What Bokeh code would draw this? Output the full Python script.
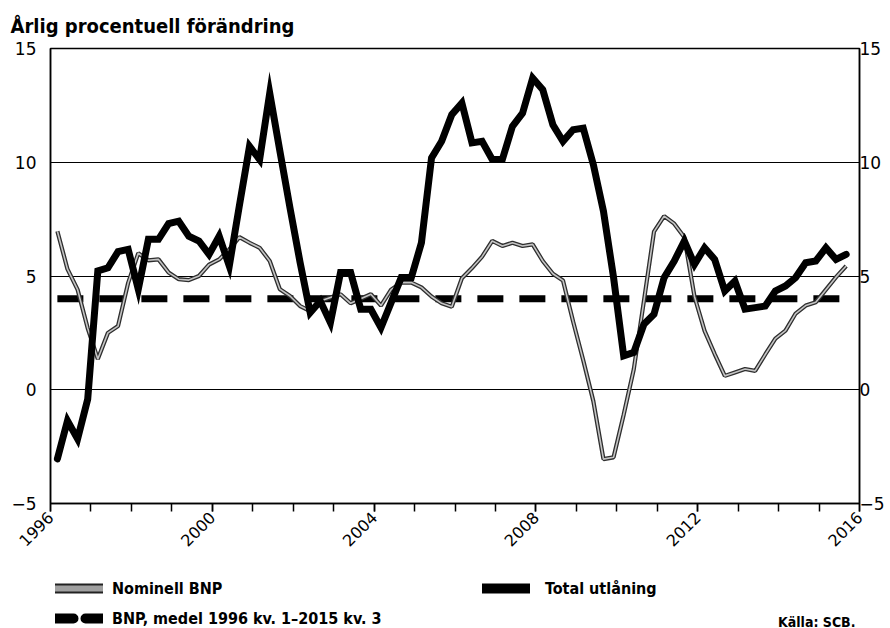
import math
from bokeh.plotting import figure
from bokeh.layouts import column
from bokeh.models import (Range1d, FixedTicker, LinearAxis, Label, Legend, LegendItem,
                          ColumnDataSource)
from bokeh.embed import file_html
from bokeh.resources import INLINE

# ---- data (quarterly, 1996 kv. 1 – 2015 kv. 3) ----
quarters = [(y, q) for y in range(1996, 2016) for q in range(1, 5)][:79]

total_utlaning = [
    -3.04, -1.36, -2.16, -0.41, 5.22, 5.36, 6.07, 6.17, 4.42, 6.61,
    6.61, 7.30, 7.41, 6.75, 6.54, 5.95, 6.75, 5.44, 8.10, 10.70,
    10.12, 13.04, 10.50, 8.00, 5.60, 3.39, 3.90, 2.95, 5.15, 5.15,
    3.54, 3.54, 2.73, 3.83, 4.93, 4.93, 6.46, 10.19, 10.92, 12.09,
    12.60, 10.85, 10.92, 10.12, 10.12, 11.58, 12.16, 13.70, 13.19, 11.65,
    10.92, 11.43, 11.50, 9.90, 7.85, 4.93, 1.49, 1.64, 2.88, 3.32,
    4.93, 5.66, 6.54, 5.51, 6.24, 5.73, 4.34, 4.78, 3.54, 3.61,
    3.68, 4.34, 4.56, 4.93, 5.58, 5.66, 6.24, 5.73, 5.95,
]

nominell_bnp = [
    6.97, 5.30, 4.40, 2.70, 1.35, 2.50, 2.80, 4.70, 6.00, 5.69,
    5.73, 5.15, 4.86, 4.82, 5.00, 5.50, 5.73, 6.17, 6.71, 6.46,
    6.24, 5.66, 4.42, 4.12, 3.68, 3.46, 3.90, 4.05, 4.20, 3.80,
    4.00, 4.20, 3.70, 4.40, 4.71, 4.71, 4.50, 4.10, 3.80, 3.65,
    4.90, 5.35, 5.85, 6.54, 6.32, 6.46, 6.32, 6.39, 5.66, 5.10,
    4.80, 3.00, 1.30, -0.50, -3.05, -2.97, -1.10, 0.90, 3.90, 6.95,
    7.63, 7.30, 6.70, 4.10, 2.59, 1.57, 0.61, 0.76, 0.91, 0.83,
    1.55, 2.25, 2.60, 3.35, 3.70, 3.85, 4.40, 4.95, 5.44,
]

bnp_medel = [4.0] * len(quarters)

y_ticks = [-5, 0, 5, 10, 15]
x_label_years = [1996, 2000, 2004, 2008, 2012, 2016]

title_text = "Årlig procentuell förändring"
legend_labels = ["Nominell BNP", "Total utlåning", "BNP, medel 1996 kv. 1\u20132015 kv. 3"]
source_text = "Källa: SCB."

x = [y + (q - 1) / 4 + 0.17 for (y, q) in quarters]
src = ColumnDataSource(dict(x=x, tot=total_utlaning, bnp=nominell_bnp, med=bnp_medel))

FONT = "DejaVu Sans"
NARROW = "'DejaVu Sans Condensed', 'Liberation Sans', sans-serif"
W = 890

# ---- main chart ----
p = figure(width=W, height=558, output_backend="svg", toolbar_location=None,
           x_range=Range1d(1996, 2016), y_range=Range1d(-5, 15), title=title_text,
           min_border_left=50, min_border_right=31, min_border_top=48, min_border_bottom=55)
p.title.align = "left"
p.title.offset = -40
p.title.standoff = 22
p.title.text_font = NARROW
p.title.text_font_style = "bold"
p.title.text_font_size = "20px"
p.title.text_color = "black"
p.outline_line_color = "black"
p.outline_line_width = 1.5
p.xgrid.visible = False
p.ygrid.ticker = FixedTicker(ticks=[0, 5, 10])
p.ygrid.grid_line_color = "black"
p.ygrid.grid_line_width = 1.2

ya = p.yaxis[0]
ra = LinearAxis()
p.add_layout(ra, "right")
for ax, standoff in ((ya, 14), (ra, 0)):
    ax.ticker = FixedTicker(ticks=y_ticks)
    ax.major_label_overrides = {-5: "\u22125"}
    ax.major_tick_out = 0
    ax.major_tick_in = 0
    ax.minor_tick_out = 0
    ax.minor_tick_in = 0
    ax.major_label_standoff = standoff
    ax.major_label_text_font = FONT
    ax.major_label_text_font_size = "17px"
    ax.major_label_text_color = "black"
    ax.axis_line_color = "black"
    ax.axis_line_width = 1.5

xa = p.xaxis[0]
xa.ticker = FixedTicker(ticks=x_label_years, minor_ticks=list(range(1996, 2017)))
xa.major_tick_out = 8
xa.major_tick_in = 0
xa.minor_tick_out = 8
xa.minor_tick_in = 0
xa.major_tick_line_width = 1.5
xa.minor_tick_line_width = 1.5
xa.major_tick_line_color = "black"
xa.minor_tick_line_color = "black"
xa.major_label_orientation = math.pi / 4
xa.major_label_standoff = 3
xa.major_label_text_font = FONT
xa.major_label_text_font_size = "16px"
xa.major_label_text_color = "black"
xa.axis_line_color = "black"
xa.axis_line_width = 1.5

p.line("x", "med", source=src, line_color="black", line_width=7,
       line_dash="26 16", line_cap="butt")
p.line("x", "bnp", source=src, line_color="#2e2e2e", line_width=4.2)
p.line("x", "bnp", source=src, line_color="#c4c4c4", line_width=1.6)
p.line("x", "tot", source=src, line_color="black", line_width=7,
       line_join="miter", line_cap="round")

# ---- legend strip (its frame is aligned with the chart frame) ----
lfig = figure(width=W, height=70, output_backend="svg", toolbar_location=None,
              x_range=Range1d(0, 1), y_range=Range1d(0, 1),
              x_axis_location=None, y_axis_location=None, min_border=0)
lfig.outline_line_color = None
lfig.grid.visible = False
nan = float("nan")
swatch = ColumnDataSource(dict(x=[nan], y=[nan]))
sw_bnp_o = lfig.line("x", "y", source=swatch, line_color="#222222", line_width=10, line_cap="round")
sw_bnp_i = lfig.line("x", "y", source=swatch, line_color="#a0a0a0", line_width=6, line_cap="round")
sw_tot = lfig.line("x", "y", source=swatch, line_color="black", line_width=10, line_cap="round")
sw_med = lfig.line("x", "y", source=swatch, line_color="black", line_width=10,
                   line_cap="round", line_dash="18 12")


def add_legend(fig, label, renderers, loc, standoff):
    lg = Legend(items=[LegendItem(label=label, renderers=renderers)], location=loc,
                orientation="horizontal", padding=0, margin=0, spacing=0,
                glyph_width=48, glyph_height=20, label_height=20, label_standoff=standoff,
                label_text_font=NARROW, label_text_font_style="bold",
                label_text_font_size="16px", label_text_color="black",
                border_line_color=None, background_fill_alpha=0)
    fig.add_layout(lg, "center")


add_legend(lfig, legend_labels[0], [sw_bnp_o, sw_bnp_i], (5, 30), 9)
add_legend(lfig, legend_labels[1], [sw_tot], (432, 30), 15)
add_legend(lfig, legend_labels[2], [sw_med], (5, 0), 9)
lfig.add_layout(Label(x=805, y=7, x_units="screen", y_units="screen", text=source_text,
                      text_font=NARROW, text_font_style="bold", text_font_size="14px",
                      text_color="black", text_align="right", text_baseline="middle"))

layout = column(p, lfig, spacing=0)
open("out.html", "w").write(file_html(layout, INLINE))
